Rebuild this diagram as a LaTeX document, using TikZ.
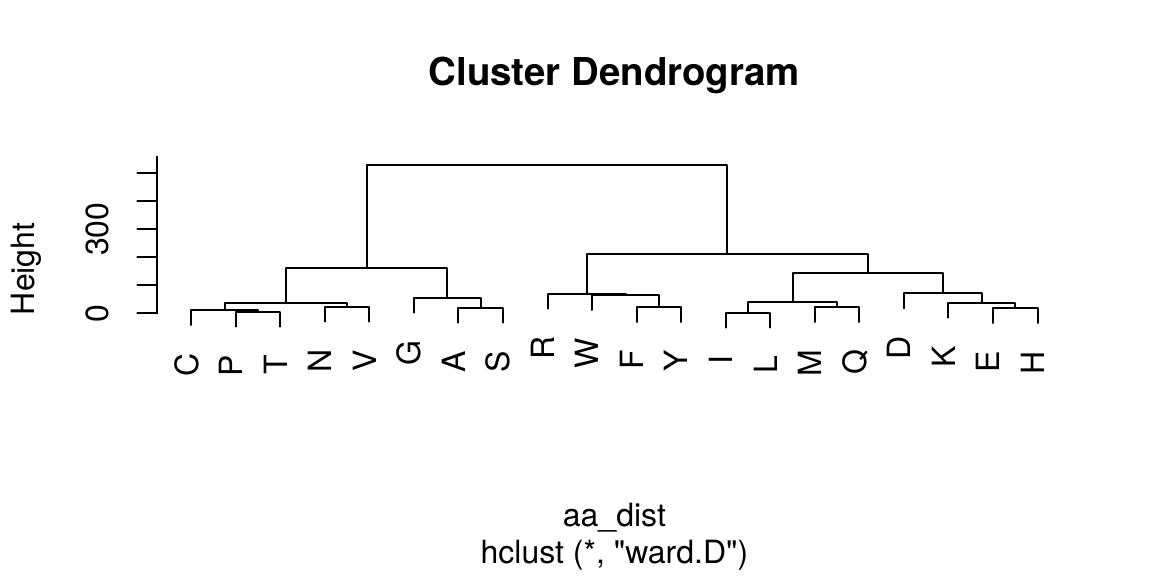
\documentclass[tikz,border=0pt]{standalone}
\usepackage{fontspec}
\setmainfont{TeX Gyre Heros}[Ligatures=TeXOff]
\begin{document}
\begin{tikzpicture}[x=0.375bp,y=-0.375bp,
  every node/.style={inner sep=0pt,outer sep=0pt,font=\fontsize{12bp}{14.4bp}\selectfont},
  tree/.style={line width=0.75bp,line cap=round,line join=round,black},
  leaflabel/.style={rotate=90,anchor=base east},
  ticklabel/.style={rotate=90,anchor=base},
  titletext/.style={anchor=base,font=\fontsize{14.4bp}{17bp}\selectfont\bfseries}]
\useasboundingbox (0,0) rectangle (1152,576);

% title and axis labels
\node[titletext] (title) at (614.4,85) {Cluster Dendrogram};
\node[anchor=base] (xlab) at (614.4,526.7) {aa\_dist};
\node[anchor=base] (sub) at (614.4,563) {hclust (*, "ward.D")};
\node[ticklabel] (ylab) at (34,268.8) {Height};

% y axis
\coordinate (ax0) at (157.4,313.3);
\coordinate (axtop) at (157.4,156.7);
\draw[tree] (ax0) -- (axtop);
\foreach \k in {0,...,5}{
  \coordinate (tk\k) at (157.4,{313.3-28*\k});
  \coordinate (tl\k) at (137.3,{313.3-28*\k});
  \draw[tree] (tk\k) -- (tl\k);
}
\node[ticklabel] (t0) at (108.3,313.3) {0};
\node[ticklabel] (t300) at (108.3,229.3) {300};

% leaves: name / x / bottom y
\foreach \n/\x/\b in {C/191.25/325.0, P/235.79/326.7, T/280.33/326.7, N/324.87/321.7,
  V/369.41/321.7, G/413.95/312.7, A/458.49/322.7, S/503.03/322.7, R/547.57/308.7,
  W/592.11/310.0, F/636.65/322.0, Y/681.19/322.0, I/725.73/327.7, L/770.27/327.7,
  M/814.81/322.0, Q/859.35/322.0, D/903.89/308.3, K/948.43/317.7, E/992.97/323.0,
  H/1037.51/323.0}{
  \coordinate (l\n) at (\x,\b);
  \node[leaflabel] (lab\n) at ({\x+6.8},{\b+28}) {\n};
}

% merge points
\coordinate (PT) at (258.06,311.7);
\coordinate (CPT) at (224.66,310.0);
\coordinate (NV) at (347.14,306.7);
\coordinate (CPTNV) at (285.90,303.0);
\coordinate (AS) at (480.76,307.7);
\coordinate (GAS) at (447.36,297.7);
\coordinate (LEFT) at (366.63,268.3);
\coordinate (FY) at (658.92,307.0);
\coordinate (WFY) at (625.52,295.0);
\coordinate (RWFY) at (586.54,293.7);
\coordinate (IL) at (748.00,312.7);
\coordinate (MQ) at (837.08,307.0);
\coordinate (ILMQ) at (792.54,301.5);
\coordinate (EH) at (1015.24,308.0);
\coordinate (KEH) at (981.84,302.7);
\coordinate (DKEH) at (942.86,293.3);
\coordinate (ILMQDKEH) at (867.70,273.3);
\coordinate (RIGHT) at (727.12,253.7);
\coordinate (TOP) at (546.88,165.0);

% connectors
\draw[tree] (lP) |- (PT) -| (lT);
\draw[tree] (lC) |- (CPT) -| (PT);
\draw[tree] (lN) |- (NV) -| (lV);
\draw[tree] (CPT) |- (CPTNV) -| (NV);
\draw[tree] (lA) |- (AS) -| (lS);
\draw[tree] (lG) |- (GAS) -| (AS);
\draw[tree] (CPTNV) |- (LEFT) -| (GAS);
\draw[tree] (lF) |- (FY) -| (lY);
\draw[tree] (lW) |- (WFY) -| (FY);
\draw[tree] (lR) |- (RWFY) -| (WFY);
\draw[tree] (lI) |- (IL) -| (lL);
\draw[tree] (lM) |- (MQ) -| (lQ);
\draw[tree] (IL) |- (ILMQ) -| (MQ);
\draw[tree] (lE) |- (EH) -| (lH);
\draw[tree] (lK) |- (KEH) -| (EH);
\draw[tree] (lD) |- (DKEH) -| (KEH);
\draw[tree] (ILMQ) |- (ILMQDKEH) -| (DKEH);
\draw[tree] (RWFY) |- (RIGHT) -| (ILMQDKEH);
\draw[tree] (LEFT) |- (TOP) -| (RIGHT);
\end{tikzpicture}
\end{document}
